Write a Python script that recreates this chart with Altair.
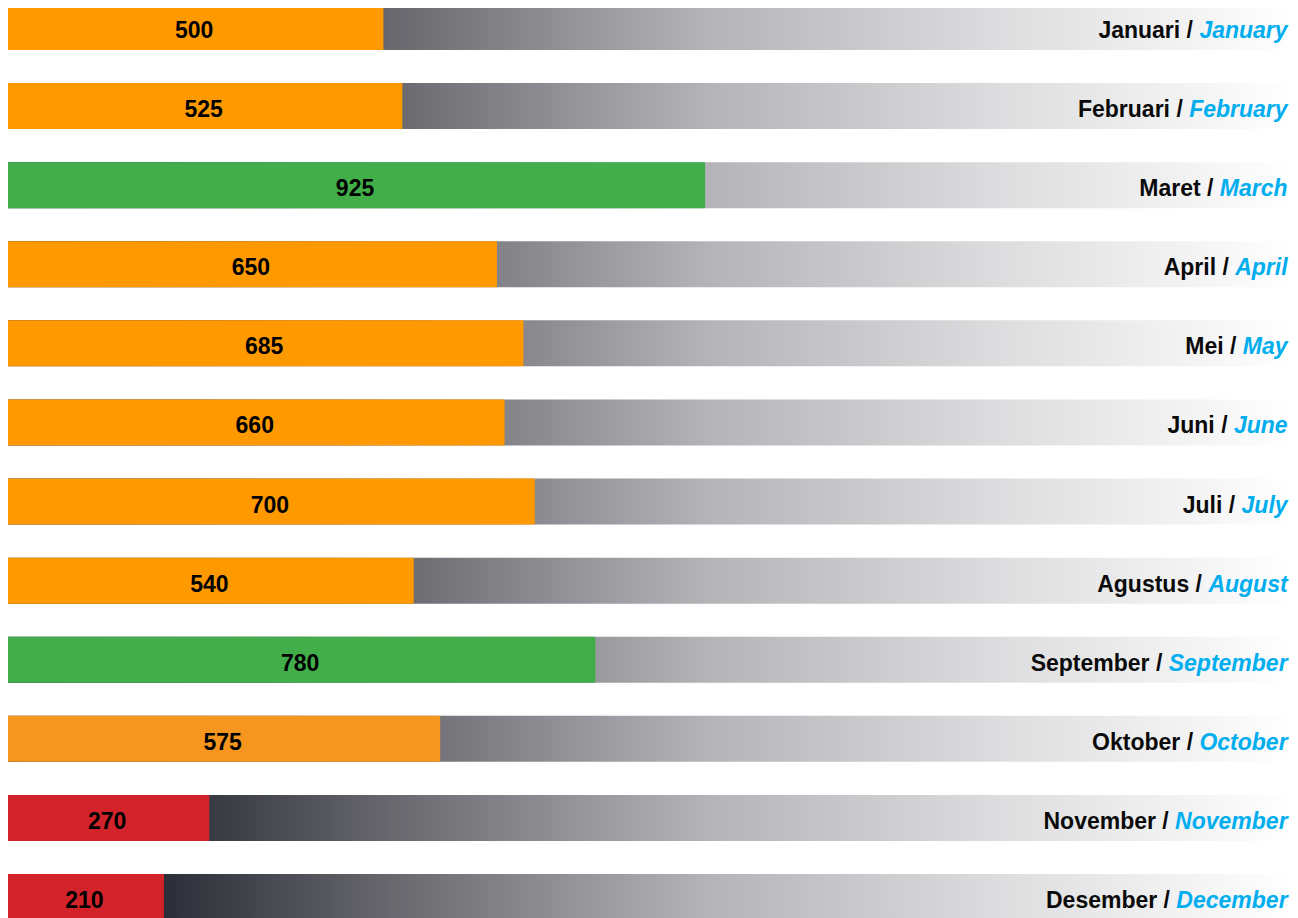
import altair as alt
import pandas as pd

# ---- data ----
bulan = ["Januari", "Februari", "Maret", "April", "Mei", "Juni", "Juli",
         "Agustus", "September", "Oktober", "November", "Desember"]
month_en = ["January", "February", "March", "April", "May", "June", "July",
            "August", "September", "October", "November", "December"]
nilai = [500, 525, 925, 650, 685, 660, 700, 540, 780, 575, 270, 210]
kategori = ["Sedang", "Sedang", "Tinggi", "Sedang", "Sedang", "Sedang", "Sedang",
            "Sedang", "Tinggi", "Sedang (Okt)", "Rendah", "Rendah"]

XMAX = 1700
X_RANGE = [-3, 1283.6]
PPU = (X_RANGE[1] - X_RANGE[0]) / XMAX
FS_LABEL = 23
FS_VALUE = 23

# Arial/Liberation Sans Bold advance widths (per 1000 em)
W = {' ': 278, '/': 278,
     'A': 722, 'B': 722, 'C': 722, 'D': 722, 'E': 667, 'F': 611, 'G': 778, 'H': 722,
     'I': 278, 'J': 556, 'K': 722, 'L': 611, 'M': 833, 'N': 722, 'O': 778, 'P': 667,
     'Q': 778, 'R': 722, 'S': 667, 'T': 611, 'U': 722, 'V': 667, 'W': 944, 'X': 667,
     'Y': 667, 'Z': 611,
     'a': 556, 'b': 611, 'c': 556, 'd': 611, 'e': 556, 'f': 333, 'g': 611, 'h': 611,
     'i': 278, 'j': 278, 'k': 556, 'l': 278, 'm': 889, 'n': 611, 'o': 611, 'p': 611,
     'q': 611, 'r': 389, 's': 556, 't': 333, 'u': 611, 'v': 556, 'w': 778, 'x': 556,
     'y': 556, 'z': 500}


def text_w(s, fs):
    return sum(W.get(c, 556) for c in s) * fs / 1000.0


df = pd.DataFrame({"bulan": bulan, "month": month_en, "nilai": nilai, "kategori": kategori})
df["label_id"] = df["bulan"] + " /"
df["mid"] = df["nilai"] / 2
df["x_en"] = XMAX
df["x_id"] = [XMAX - (text_w(m, FS_LABEL) + text_w(" ", FS_LABEL)) / PPU for m in month_en]

y_enc = alt.Y("bulan:N", sort=bulan, axis=None,
              scale=alt.Scale(range=[-4, 912], paddingInner=0.4184, paddingOuter=0))
x_scale = alt.Scale(domain=[0, XMAX], range=X_RANGE, nice=False, zero=True)

base = alt.Chart(df)

grad = alt.Gradient(
    gradient="linear",
    stops=[
        alt.GradientStop(offset=0, color="#22252d"),
        alt.GradientStop(offset=0.12, color="#2a2d36"),
        alt.GradientStop(offset=0.3, color="#68686e"),
        alt.GradientStop(offset=0.55, color="#b5b4b9"),
        alt.GradientStop(offset=0.78, color="#dedee0"),
        alt.GradientStop(offset=1, color="#ffffff"),
    ],
    x1=0, x2=1, y1=0, y2=0,
)

bg = base.mark_bar(color=grad, cornerRadius=0).encode(
    x=alt.X("x0:Q", scale=x_scale, axis=None),
    x2=alt.datum(XMAX),
    y=y_enc,
).transform_calculate(x0="0")

bars = base.mark_bar(cornerRadius=0).encode(
    x=alt.X("nilai:Q", scale=x_scale, axis=None),
    y=y_enc,
    color=alt.Color("kategori:N", legend=None,
                    scale=alt.Scale(domain=["Sedang", "Tinggi", "Sedang (Okt)", "Rendah"],
                                    range=["#ff9900", "#42ae4a", "#f7961f", "#d2232a"])),
)

values = base.mark_text(font="Liberation Sans", fontWeight="bold", fontSize=FS_VALUE,
                        color="#000000", align="center", baseline="alphabetic", dy=11).encode(
    x=alt.X("mid:Q", scale=x_scale, axis=None),
    y=y_enc,
    text=alt.Text("nilai:Q"),
)

lab_en = base.mark_text(font="Liberation Sans", fontWeight="bold", fontStyle="italic",
                        fontSize=FS_LABEL, color="#00aeef", align="right",
                        baseline="alphabetic", dy=11, dx=-4).encode(
    x=alt.X("x_en:Q", scale=x_scale, axis=None),
    y=y_enc,
    text="month:N",
)

lab_id = base.mark_text(font="Liberation Sans", fontWeight="bold",
                        fontSize=FS_LABEL, color="#0a0a0a", align="right",
                        baseline="alphabetic", dy=11, dx=-4).encode(
    x=alt.X("x_id:Q", scale=x_scale, axis=None),
    y=y_enc,
    text="label_id:N",
)

chart = alt.layer(bg, bars, values, lab_en, lab_id).properties(
    width=1282, height=910, padding=0,
    autosize=alt.AutoSizeParams(type="none"),
    background="#ffffff",
).configure_view(stroke=None)

chart.save("out.html", embed_options={"renderer": "svg", "actions": False})
